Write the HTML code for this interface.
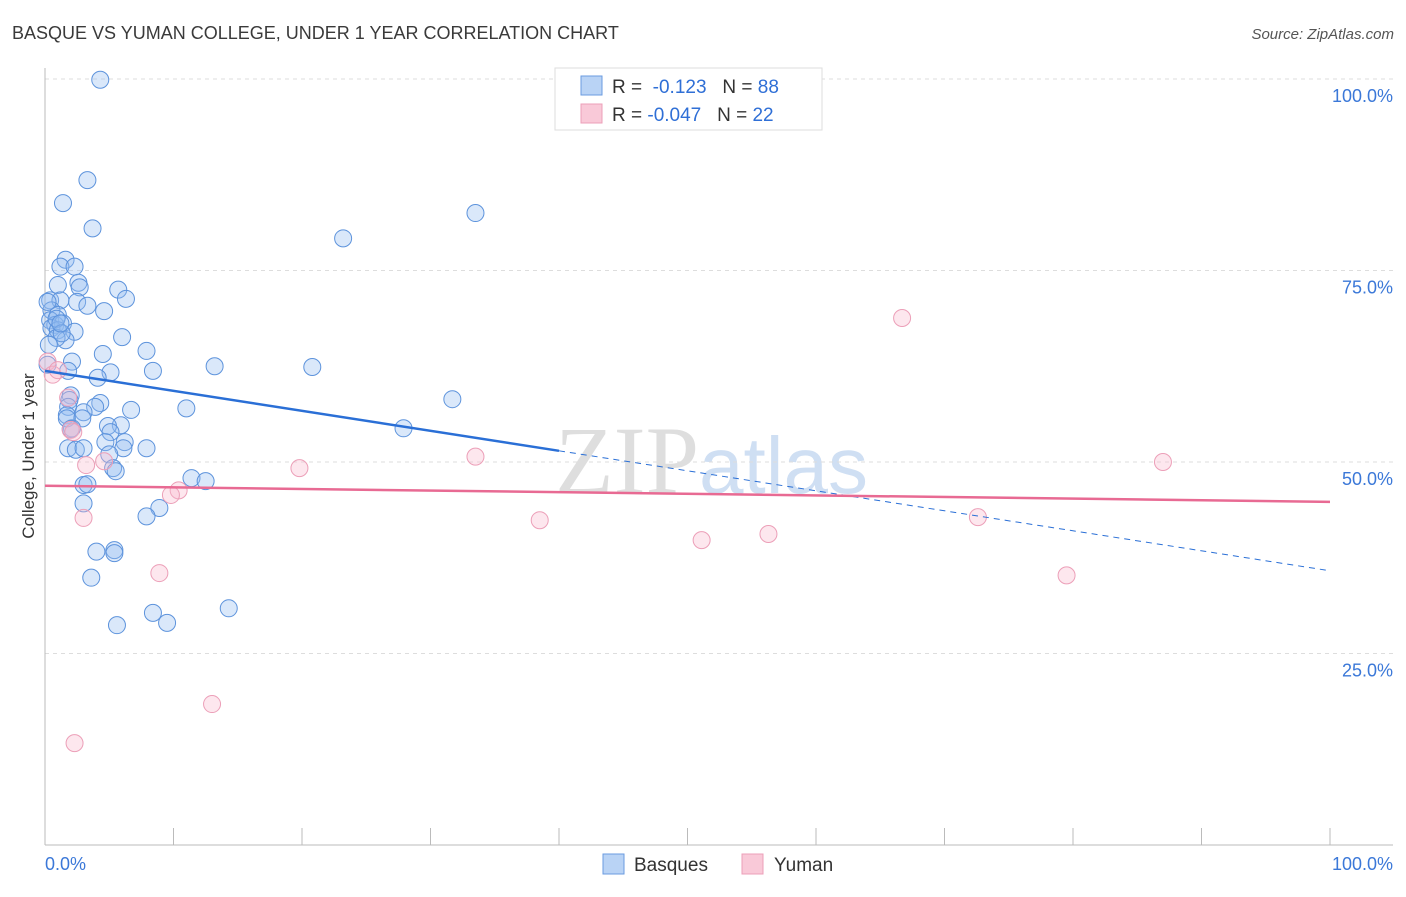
<!DOCTYPE html>
<html><head><meta charset="utf-8"><style>
body{margin:0;background:#fff;font-family:"Liberation Sans",sans-serif;}
</style></head><body>
<svg id="chart" width="1406" height="892" xmlns="http://www.w3.org/2000/svg" font-family="Liberation Sans, sans-serif">
<text x="12" y="39" font-size="18" fill="#3a3a3a">BASQUE VS YUMAN COLLEGE, UNDER 1 YEAR CORRELATION CHART</text>
<text x="1394" y="39" font-size="15" fill="#555" font-style="italic" text-anchor="end">Source: ZipAtlas.com</text>
<text x="555" y="493" font-size="96" font-family="Liberation Serif, serif" fill="#dedede">ZIP<tspan fill="#cfdff3" font-family="Liberation Sans, sans-serif" font-size="80">atlas</tspan></text>
<g id="grid"></g>
<g id="axes"></g>
<g id="pts"></g>
<g id="trends"></g>
<text transform="translate(34,456) rotate(-90)" font-size="17" fill="#333" text-anchor="middle">College, Under 1 year</text>
<g>
<rect x="555" y="68" width="267" height="62" fill="#fff" stroke="#ddd"/>
<rect x="581" y="76" width="21" height="19" fill="#b9d3f5" stroke="#6a9be0"/>
<rect x="581" y="104" width="21" height="19" fill="#f9c9d8" stroke="#ec9fb8"/>
<text x="612" y="93" font-size="19" fill="#333">R = <tspan fill="#2f6fd6">&#160;-0.123</tspan>&#160;&#160;&#160;N = <tspan fill="#2f6fd6">88</tspan></text>
<text x="612" y="121" font-size="19" fill="#333">R = <tspan fill="#2f6fd6">-0.047</tspan>&#160;&#160;&#160;N = <tspan fill="#2f6fd6">22</tspan></text>
</g>
<g>
<rect x="603" y="854" width="21" height="20" fill="#b9d3f5" stroke="#6a9be0"/>
<text x="634" y="871" font-size="19" fill="#333">Basques</text>
<rect x="742" y="854" width="21" height="20" fill="#f9c9d8" stroke="#ec9fb8"/>
<text x="774" y="871" font-size="19" fill="#333">Yuman</text>
</g>
</svg>
<script>
const blueX=[4.3,3.3,1.4,3.7,33.5,23.2,1.6,1.2,2.3,1.0,2.6,2.7,5.7,6.3,0.4,1.2,2.5,3.3,4.6,0.5,1.0,0.4,0.8,1.4,0.5,1.0,2.3,6.0,1.6,0.9,7.9,4.5,2.1,13.2,20.8,8.4,5.1,1.8,4.1,31.7,2.0,1.9,4.3,1.8,3.9,11.0,6.7,3.0,1.7,2.9,5.9,4.9,27.9,2.1,5.1,4.7,6.2,6.1,7.9,1.8,2.4,5.0,5.3,5.5,11.4,12.5,3.0,3.3,3.0,8.9,7.9,4.0,5.4,5.4,3.6,8.4,14.3,5.6,9.5,0.2,0.9,1.3,0.3,1.7,2.0,3.0,1.2,0.2];
const blueY=[99.9,86.8,83.8,80.5,82.5,79.2,76.4,75.5,75.5,73.1,73.4,72.8,72.5,71.3,71.1,71.1,70.9,70.4,69.7,69.8,69.2,68.5,67.9,68.1,67.5,67.2,67.0,66.3,65.9,66.2,64.5,64.1,63.1,62.5,62.4,61.9,61.7,61.9,61.0,58.2,58.7,58.1,57.7,57.2,57.2,57.0,56.8,56.5,56.1,55.7,54.8,54.7,54.4,54.4,53.9,52.6,52.6,51.8,51.8,51.8,51.6,51.0,49.2,48.8,47.9,47.5,47.0,47.1,44.6,44.0,42.9,38.3,38.5,38.1,34.9,30.3,30.9,28.7,29.0,70.9,68.7,66.8,65.3,55.7,54.3,51.8,68.1,62.7];
const pinkX=[0.2,0.6,1.0,1.8,2.0,2.2,3.2,4.6,3.0,10.4,9.8,8.9,13.0,2.3,19.8,33.5,38.5,51.1,56.3,66.7,72.6,79.5,87.0];
const pinkY=[63.1,61.4,62.0,58.4,54.2,53.9,49.6,50.1,42.7,46.3,45.7,35.5,18.4,13.3,49.2,50.7,42.4,39.8,40.6,68.8,42.8,35.2,50.0];
const blueTrend=[61.9,35.8];
const pinkTrend=[46.9,44.8];
const blueSolidEnd=40;
const yTicks=[25,50,75,100];
const xTickCount=10;
const NS="http://www.w3.org/2000/svg";
const X=v=>45+v*12.85, Y=v=>845-v*7.66;
function mk(tag,attrs,parent){const e=document.createElementNS(NS,tag);for(const k in attrs)e.setAttribute(k,attrs[k]);document.getElementById(parent).appendChild(e);return e;}
yTicks.forEach(t=>{
 const l=mk('line',{x1:45,x2:1393,y1:Y(t),y2:Y(t),stroke:'#ddd','stroke-dasharray':'4,4'},'grid');
 
 
 const tx=mk('text',{x:1393,y:Y(t)+23,'font-size':18,fill:'#3b78d8','text-anchor':'end'},'grid');
 tx.textContent=t.toFixed(1)+'%';
 
 
});
let a=mk('line',{x1:45,x2:45,y1:68,y2:845,stroke:'#bbb'},'axes');


a=mk('line',{x1:45,x2:1393,y1:845,y2:845,stroke:'#bbb'},'axes');


for(let i=1;i<=xTickCount;i++){const v=i*100/xTickCount;
 const t=mk('line',{x1:X(v),x2:X(v),y1:828,y2:845,stroke:'#bbb'},'axes');
 
 }
let xl=mk('text',{x:45,y:870,'font-size':18,fill:'#3b78d8'},'axes');xl.textContent='0.0%';


xl=mk('text',{x:1393,y:870,'font-size':18,fill:'#3b78d8','text-anchor':'end'},'axes');xl.textContent='100.0%';


blueX.forEach((x,i)=>{const c=mk('circle',{cx:X(x),cy:Y(blueY[i]),r:8.5,fill:'rgba(150,190,240,0.35)',stroke:'#5d93dc','stroke-width':1},'pts');
 
 });
pinkX.forEach((x,i)=>{const c=mk('circle',{cx:X(x),cy:Y(pinkY[i]),r:8.5,fill:'rgba(248,185,205,0.35)',stroke:'#ec9fb8','stroke-width':1},'pts');
 
 });
const by=v=>blueTrend[0]+(blueTrend[1]-blueTrend[0])*v/100;
let l=mk('line',{x1:X(0),y1:Y(by(0)),x2:X(blueSolidEnd),y2:Y(by(blueSolidEnd)),stroke:'#2a6fd6','stroke-width':2.5},'trends');


l=mk('line',{x1:X(blueSolidEnd),y1:Y(by(blueSolidEnd)),x2:X(100),y2:Y(by(100)),stroke:'#2a6fd6','stroke-width':1,'stroke-dasharray':'6,5'},'trends');


l=mk('line',{x1:X(0),y1:Y(pinkTrend[0]),x2:X(100),y2:Y(pinkTrend[1]),stroke:'#e86a93','stroke-width':2.5},'trends');


</script>
</body></html>
